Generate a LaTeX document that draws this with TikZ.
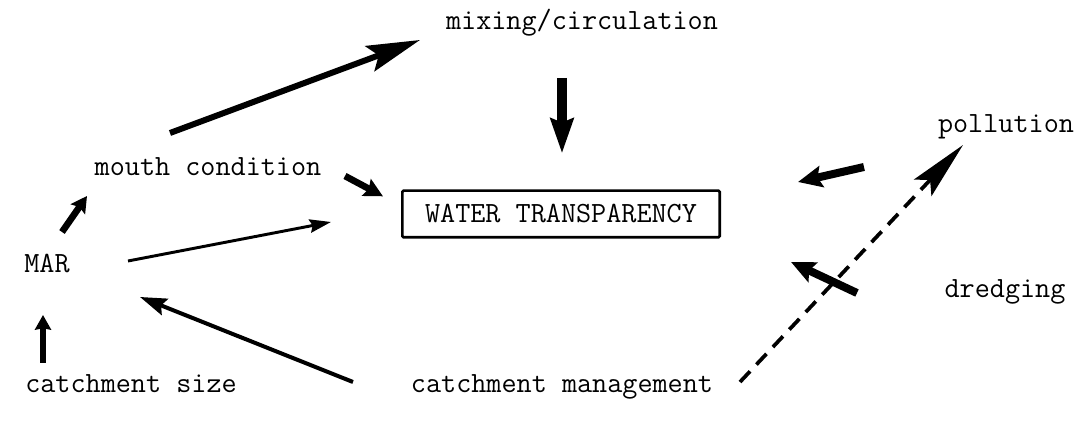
\documentclass[tikz,border=0pt]{standalone}
\usetikzlibrary{arrows.meta,calc}
\tikzset{
  lbl/.style={font=\ttfamily\fontsize{22}{24}\selectfont, inner sep=0pt, anchor=base},
  arr/.style n args={4}{line width=#1, -{Stealth[length=#2, width=#3, inset=#4]}},
}
\begin{document}
\begin{tikzpicture}[x=0.75pt,y=0.75pt,yscale=-1,xscale=1]
\useasboundingbox (0,0) rectangle (1083,423);

% Text Node
\node[lbl] (mixing) at (582,30) {mixing/circulation};
% Text Node
\node[lbl] (mouth) at (208,176) {mouth condition};
% Text Node
\node[lbl] (mar) at (47,273) {MAR};
% Text Node
\node[lbl] (size) at (131,393) {catchment size};
% Text Node
\node[lbl] (manage) at (562,393) {catchment management};
% Text Node
\node[lbl] (pollution) at (1006,133) {pollution};
% Text Node
\node[lbl] (dredging) at (1005,298) {dredging};
% Box
\node[draw, line width=2pt, rounded corners=1pt, minimum width=238pt, minimum height=35pt,
      font=\ttfamily\fontsize{22}{24}\selectfont] (box) at (561,214) {WATER TRANSPARENCY};

%Straight Lines
\draw[arr={4.5pt}{40pt}{20pt}{7pt}] ($(mouth.base)+(-38,-43)$) -- ($(mixing.base)+(-162,10)$);
\draw[arr={8pt}{26pt}{17pt}{3pt}] ($(mixing.base)+(-20,48)$) -- ($(box.north)+(1,-36)$);
\draw[arr={5pt}{14pt}{14pt}{2pt}] ($(mouth.base)+(137,0)$) -- ($(box.north west)+(-18,7)$);
\draw[arr={5pt}{12pt}{13pt}{2pt}] ($(mar.base)+(15,-41)$) -- ($(mouth.base)+(-121,20)$);
\draw[arr={2.2pt}{16pt}{10pt}{2pt}] ($(mar.base)+(81,-12)$) -- ($(box.west)+(-70,8)$);
\draw[arr={3pt}{20pt}{13pt}{3pt}] ($(manage.base)+(-209,-11)$) -- ($(mar.base)+(93,24)$);
\draw[arr={5pt}{11pt}{12pt}{1pt}] ($(size.base)+(-88,-30)$) -- ($(mar.base)+(-4,42)$);
\draw[arr={6pt}{18pt}{16pt}{3pt}] ($(pollution.base)+(-142,34)$) -- ($(box.east)+(77,-32)$);
\draw[arr={6pt}{18pt}{16pt}{3pt}] ($(dredging.base)+(-148,-5)$) -- ($(box.east)+(70,48)$);
%Dashed Line
\draw[arr={2.8pt}{44pt}{18pt}{8pt}, dash pattern={on 11pt off 7pt}] ($(manage.base)+(178,-11)$) -- ($(pollution.base)+(-43,12)$);

\end{tikzpicture}
\end{document}
